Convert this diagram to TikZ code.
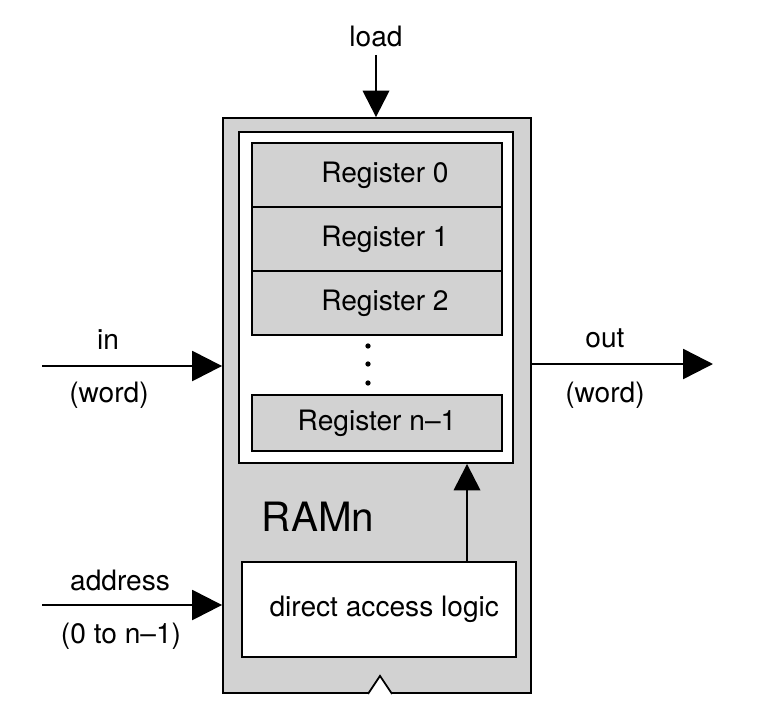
\documentclass[tikz,border=0pt]{standalone}
\usepackage{fontspec}
\setmainfont{TeX Gyre Heros}
\usepackage{tikz}
\usetikzlibrary{arrows.meta,calc}

\begin{document}
\begin{tikzpicture}[x=0.02cm,y=-0.02cm,
          every node/.style={font=\fontsize{16}{19}\selectfont},
          regbox/.style={draw, line width=1.1pt, fill=gray!35, minimum width=5cm, inner sep=0pt},
          wire/.style={line width=1.4pt, -{Triangle[length=17pt,width=17pt]}},
          upwire/.style={line width=1.4pt, -{Triangle[length=15pt,width=15pt]}}]
          \useasboundingbox (0,0) rectangle (780,723);

          \node[draw, line width=1.1pt, fill=gray!35, minimum width=6.16cm, minimum height=11.5cm, inner sep=0pt] (RAM) at (377,405.5) {};
          \node[draw, line width=1.1pt, fill=white, minimum width=5.48cm, minimum height=6.62cm, inner sep=0pt] (Panel) at (376,297.5) {};

          \node[regbox, minimum height=1.28cm] (Reg0) at (377,175) {\hspace{9pt}Register 0};
          \node[regbox, minimum height=1.28cm] (Reg1) at (377,239) {\hspace{9pt}Register 1};
          \node[regbox, minimum height=1.28cm] (Reg2) at (377,303) {\hspace{9pt}Register 2};
          \node[regbox, minimum height=1.12cm] (RegN) at (377,423) {Register n--1};

          \fill (368,346) circle (1.5pt);
          \fill (368,364) circle (1.5pt);
          \fill (368,383) circle (1.5pt);

          \node[font=\fontsize{23}{27}\selectfont] (Name) at (318,517) {RAMn};
          \node[draw, line width=1.1pt, fill=white, minimum width=5.48cm, minimum height=1.9cm, inner sep=0pt] (Logic) at (379,609.5) {\hspace{6pt}direct access logic};

          \draw[fill=white, line width=1pt] ($(RAM.south)+(-9,0)$) -- ($(RAM.south)+(3,-18)$) -- ($(RAM.south)+(15,0)$);

          \node (Load) at (376,36) {load};
          \node (In) at (108,340) {in};
          \node (InWord) at (109,395) {(word)};
          \node (Out) at (605,338) {out};
          \node (OutWord) at (605,395) {(word)};
          \node (Address) at (120,580) {address};
          \node (Range) at (121,636) {(0 to n--1)};

          \coordinate (LoadStart) at (376,55);
          \coordinate (InStart) at (42,366);
          \coordinate (OutEnd) at (713,364);
          \coordinate (AddrStart) at (42,605);

          \draw[upwire] (LoadStart) to (LoadStart |- RAM.north);
          \draw[wire] (InStart) to (InStart -| RAM.west);
          \draw[wire] (OutEnd -| RAM.east) to (OutEnd);
          \draw[wire] (AddrStart) to (AddrStart -| RAM.west);
          \draw[upwire] (467,0 |- Logic.north) to (467,0 |- Panel.south);
        \end{tikzpicture}
\end{document}
